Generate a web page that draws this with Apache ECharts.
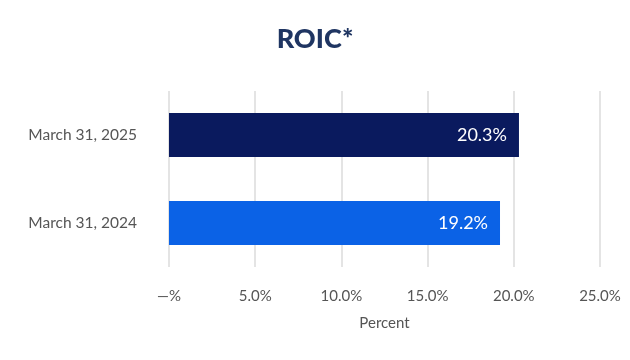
<!DOCTYPE html>
<html><head><meta charset="utf-8">
<script src="https://cdn.jsdelivr.net/npm/echarts@6/dist/echarts.min.js"></script>
<style>html,body{margin:0;padding:0;background:#fff}#c{width:630px;height:360px}</style>
</head><body><div id="c"></div>
<script>
const categories = ["March 31, 2024", "March 31, 2025"];
const values = [19.2, 20.3];
const barColors = ["#0b62e6", "#0a1a5e"];
const tickLabels = {0: "—%", 5: "5.0%", 10: "10.0%", 15: "15.0%", 20: "20.0%", 25: "25.0%"};

const chart = echarts.init(document.getElementById('c'), null, {renderer: 'canvas'});
chart.setOption({
  animation: false,
  title: {text: "ROIC*", left: 'center', top: 21,
    textStyle: {fontFamily: 'Lato', fontWeight: 900, fontSize: 27, color: '#1f3562'}},
  grid: {left: 169, right: 30, top: 91, height: 176, containLabel: false},
  xAxis: {type: 'value', min: 0, max: 25, interval: 5,
    name: 'Percent', nameLocation: 'middle', nameGap: 49,
    nameTextStyle: {fontFamily: 'Lato', fontSize: 15, color: '#555'},
    axisLine: {show: false}, axisTick: {show: false},
    axisLabel: {formatter: v => tickLabels[v], fontFamily: 'Lato', fontSize: 15, color: '#555', margin: 22},
    splitLine: {lineStyle: {color: '#e4e4e4', width: 2}}},
  yAxis: {type: 'category', data: categories,
    axisLine: {show: false}, axisTick: {show: false},
    axisLabel: {fontFamily: 'Lato', fontSize: 15.5, color: '#555', margin: 32}},
  series: [{type: 'bar', barWidth: 44,
    data: values.map((v, i) => ({value: v, itemStyle: {color: barColors[i]}})),
    label: {show: true, position: 'insideRight', distance: 12, formatter: p => p.value.toFixed(1) + '%',
      color: '#fff', fontFamily: 'Lato', fontSize: 18}}]
});
</script></body></html>
